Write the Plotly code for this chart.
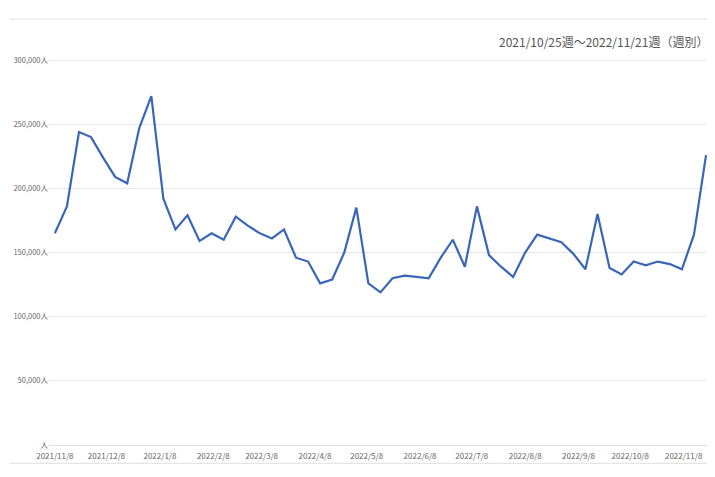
import plotly.graph_objects as go
import pandas as pd

weeks = pd.date_range("2021-11-08", periods=55, freq="7D")
visitors = [165,186,244,240,224,209,204,247,272,192,168,179,159,165,160,178,171,165,161,168,
            146,143,126,129,150,185,126,119,130,132,131,130,146,160,139,186,148,139,131,150,
            164,161,158,149,137,180,138,133,143,140,143,141,137,164,226]
visitors = [v*1000 for v in visitors]
tick_dates = ["2021-11-08","2021-12-08","2022-01-08","2022-02-08","2022-03-08","2022-04-08","2022-05-08",
              "2022-06-08","2022-07-08","2022-08-08","2022-09-08","2022-10-08","2022-11-08"]
tick_text = [d.replace("-0","-").replace("-","/") for d in tick_dates]
y_ticks = [0,50000,100000,150000,200000,250000,300000]
y_text = ["人"] + [f"{v:,}人" for v in y_ticks[1:]]
title = "2021/10/25週～2022/11/21週（週別）"

fig = go.Figure(go.Scatter(x=weeks, y=visitors, mode="lines",
                           line=dict(color="#3a66b8", width=2.2)))
fig.update_layout(
    width=707, height=469, margin=dict(l=32, r=5, t=47, b=32),
    paper_bgcolor="white", plot_bgcolor="white", showlegend=False,
    font=dict(family="Noto Sans CJK JP", color="#666"),
    xaxis=dict(type="date", range=[weeks[0]-pd.Timedelta(days=3.4), weeks[-1]+pd.Timedelta(days=2.3)],
               tickvals=tick_dates, ticktext=tick_text, tickfont=dict(size=8, color="#666"),
               showgrid=False, showline=True, linecolor="#e0e0e0", ticks="outside", ticklen=3,
               tickcolor="rgba(0,0,0,0)"),
    yaxis=dict(range=[0, 304000], tickvals=y_ticks, ticktext=y_text, tickfont=dict(size=7.5, color="#666"),
               showgrid=True, gridcolor="#e6e6e6", zeroline=False, ticks=""),
    shapes=[dict(type="line", xref="paper", yref="paper", x0=-0.06, x1=1.01, y0=1.092, y1=1.092,
                 line=dict(color="#e0e0e0", width=1)),
            dict(type="line", xref="paper", yref="paper", x0=-0.06, x1=1.01, y0=-0.047, y1=-0.047,
                 line=dict(color="#e0e0e0", width=1))],
    annotations=[dict(text=title, xref="paper", yref="paper", x=1.0, y=1.035, xanchor="right",
                      yanchor="middle", showarrow=False, font=dict(size=12, color="#555"))],
)
fig.write_html("out.html")
